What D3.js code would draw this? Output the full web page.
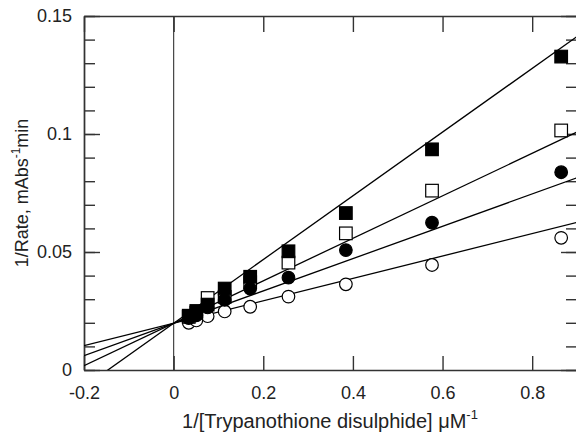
<!DOCTYPE html>
<html>
<head>
<meta charset="utf-8">
<script src="https://cdn.jsdelivr.net/npm/d3@7"></script>
<style>
  body { margin: 0; background: #fff; }
  svg { display: block; font-family: "Liberation Sans", Arial, sans-serif; }
</style>
</head>
<body>
<svg id="chart" width="576" height="435"></svg>
<script>
// x values: 1/[TS] (uM^-1)
const invConc = [0.0337, 0.0506, 0.0759, 0.1139, 0.1708, 0.2562, 0.3843, 0.5765, 0.8647];

// 1/rate for each series
const openCircle   = [0.0200, 0.0210, 0.0228, 0.0248, 0.0268, 0.0311, 0.0363, 0.0445, 0.0560];
const openSquare   = [0.0225, 0.0243, 0.0305, 0.0310, 0.0372, 0.0455, 0.0579, 0.0760, 0.1015];
const filledCircle = [0.0220, 0.0232, 0.0265, 0.0297, 0.0345, 0.0391, 0.0508, 0.0624, 0.0838];
const filledSquare = [0.0230, 0.0250, 0.0277, 0.0345, 0.0395, 0.0503, 0.0665, 0.0935, 0.1328];

// fitted lines (intercept, slope)
const fitIntercepts = [0.0198, 0.0198, 0.0198, 0.0198];
const fitSlopes     = [0.0475, 0.0900, 0.0685, 0.1350];

// ticks
const xTickLabels = [-0.2, 0, 0.2, 0.4, 0.6, 0.8];
const yTickLabels = [0, 0.05, 0.1, 0.15];

const series = [
    { values: openCircle,   shape: "circle", fill: "#fff" },
    { values: openSquare,   shape: "square", fill: "#fff" },
    { values: filledCircle, shape: "circle", fill: "#000" },
    { values: filledSquare, shape: "square", fill: "#000" }
];

const svg = d3.select("#chart");
const plotLeft = 84, plotRight = 577, plotTop = 16, plotBottom = 370;

const x = d3.scaleLinear().domain([-0.2, 0.9]).range([plotLeft, plotRight]);
const y = d3.scaleLinear().domain([0, 0.15]).range([plotBottom, plotTop]);

// plain hyphen for negatives, like the original
const fmt = d => String(+d.toFixed(3));

svg.append("clipPath").attr("id", "plotclip")
    .append("rect")
    .attr("x", plotLeft).attr("y", plotTop)
    .attr("width", plotRight - plotLeft).attr("height", plotBottom - plotTop);

// zero line
svg.append("line")
    .attr("x1", x(0)).attr("x2", x(0))
    .attr("y1", plotTop).attr("y2", plotBottom)
    .attr("stroke", "#444").attr("stroke-width", 1.2);

// axes
const minorY = d3.range(0, 0.1501, 0.01);
const axisStyle = g => {
    g.select(".domain").attr("stroke", "#333").attr("stroke-width", 1.4);
    g.selectAll(".tick line").attr("stroke", "#333").attr("stroke-width", 1.4);
    g.selectAll("text").attr("font-size", 18).attr("fill", "#222")
        .attr("font-family", "'Liberation Sans', Arial, sans-serif");
};

svg.append("g").attr("transform", `translate(0,${plotBottom})`)
    .call(d3.axisBottom(x).tickValues(xTickLabels).tickSizeInner(-14).tickSizeOuter(0)
        .tickPadding(16).tickFormat(fmt))
    .call(axisStyle);
svg.append("g").attr("transform", `translate(0,${plotTop})`)
    .call(d3.axisTop(x).tickValues(xTickLabels).tickSizeInner(-16).tickSizeOuter(0).tickFormat(""))
    .call(axisStyle);
svg.append("g").attr("transform", `translate(${plotLeft},0)`)
    .call(d3.axisLeft(y).tickValues(minorY).tickSizeOuter(0)
        .tickSizeInner(-11).tickPadding(24).tickFormat(""))
    .call(axisStyle);
svg.append("g").attr("transform", `translate(${plotLeft},0)`)
    .call(d3.axisLeft(y).tickValues(yTickLabels).tickSizeOuter(0)
        .tickSizeInner(-16).tickPadding(12).tickFormat(fmt))
    .call(axisStyle);
svg.append("g").attr("transform", `translate(${plotRight},0)`)
    .call(d3.axisRight(y).tickValues(minorY).tickSizeOuter(0).tickSizeInner(-11).tickFormat(""))
    .call(axisStyle);
svg.append("g").attr("transform", `translate(${plotRight},0)`)
    .call(d3.axisRight(y).tickValues(yTickLabels).tickSizeOuter(0).tickSizeInner(-16).tickFormat(""))
    .call(axisStyle);

// fitted lines
const plot = svg.append("g").attr("clip-path", "url(#plotclip)");
fitSlopes.forEach((m, i) => {
    const b = fitIntercepts[i];
    plot.append("line")
        .attr("x1", x(-0.2)).attr("y1", y(b + m * -0.2))
        .attr("x2", x(0.9)).attr("y2", y(b + m * 0.9))
        .attr("stroke", "#000").attr("stroke-width", 1.3);
});

// markers
series.forEach(s => {
    const g = svg.append("g");
    s.values.forEach((v, i) => {
        if (s.shape === "circle") {
            g.append("circle")
                .attr("cx", x(invConc[i])).attr("cy", y(v)).attr("r", 6.3)
                .attr("fill", s.fill).attr("stroke", "#000").attr("stroke-width", 1.2);
        } else {
            g.append("rect")
                .attr("x", x(invConc[i]) - 6.3).attr("y", y(v) - 6.3)
                .attr("width", 12.6).attr("height", 12.6)
                .attr("fill", s.fill).attr("stroke", "#000").attr("stroke-width", 1.2);
        }
    });
});

// axis titles
const xt = svg.append("text")
    .attr("x", 330).attr("y", 428)
    .attr("text-anchor", "middle").attr("font-size", 20).attr("fill", "#222");
xt.append("tspan").text("1/[Trypanothione disulphide] μM");
xt.append("tspan").attr("font-size", 13).attr("dy", -9).text("-1");

const yt = svg.append("text")
    .attr("transform", `translate(28,${(plotTop + plotBottom) / 2}) rotate(-90)`)
    .attr("text-anchor", "middle").attr("font-size", 18).attr("fill", "#222");
yt.append("tspan").text("1/Rate, mAbs");
yt.append("tspan").attr("font-size", 12).attr("dy", -8).text("-1");
yt.append("tspan").attr("dy", 8).text("min");
</script>
</body>
</html>
